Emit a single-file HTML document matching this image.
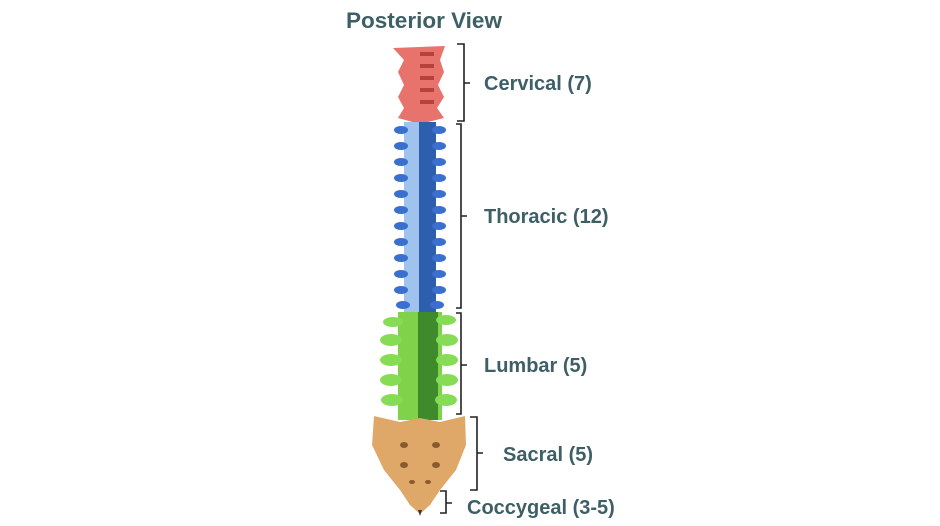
<!DOCTYPE html>
<html><head><style>
body{margin:0;background:#fff;}
svg{display:block;}
text{font-family:"Liberation Sans",sans-serif;font-weight:bold;fill:#3e5f66;}
</style></head><body>
<svg width="940" height="526" viewBox="0 0 940 526">
<text x="424" y="28" font-size="22.5" text-anchor="middle">Posterior View</text>
<!-- cervical -->
<path d="M393 48 L445 46 L440 60 L444 72 L438 85 L444 97 L437 108 L444 118 L420 124 L398 118 L404 108 L398 97 L404 85 L398 72 L404 60 Z" fill="#e8736c"/>
<g fill="#b5433c"><rect x="420" y="52" width="14" height="4"/><rect x="420" y="64" width="14" height="4"/><rect x="420" y="76" width="14" height="4"/><rect x="420" y="88" width="14" height="4"/><rect x="420" y="100" width="14" height="4"/></g>
<!-- thoracic -->
<rect x="404" y="122" width="32" height="190" fill="#9fc3ec"/>
<rect x="419" y="122" width="17" height="190" fill="#2d5fae"/>
<g fill="#3a6fd0">
<ellipse cx="401" cy="130" rx="7" ry="4"/><ellipse cx="439" cy="130" rx="7" ry="4"/>
<ellipse cx="401" cy="146" rx="7" ry="4"/><ellipse cx="439" cy="146" rx="7" ry="4"/>
<ellipse cx="401" cy="162" rx="7" ry="4"/><ellipse cx="439" cy="162" rx="7" ry="4"/>
<ellipse cx="401" cy="178" rx="7" ry="4"/><ellipse cx="439" cy="178" rx="7" ry="4"/>
<ellipse cx="401" cy="194" rx="7" ry="4"/><ellipse cx="439" cy="194" rx="7" ry="4"/>
<ellipse cx="401" cy="210" rx="7" ry="4"/><ellipse cx="439" cy="210" rx="7" ry="4"/>
<ellipse cx="401" cy="226" rx="7" ry="4"/><ellipse cx="439" cy="226" rx="7" ry="4"/>
<ellipse cx="401" cy="242" rx="7" ry="4"/><ellipse cx="439" cy="242" rx="7" ry="4"/>
<ellipse cx="401" cy="258" rx="7" ry="4"/><ellipse cx="439" cy="258" rx="7" ry="4"/>
<ellipse cx="401" cy="274" rx="7" ry="4"/><ellipse cx="439" cy="274" rx="7" ry="4"/>
<ellipse cx="401" cy="290" rx="7" ry="4"/><ellipse cx="439" cy="290" rx="7" ry="4"/>
<ellipse cx="403" cy="305" rx="7" ry="4"/><ellipse cx="437" cy="305" rx="7" ry="4"/>
</g>
<!-- lumbar -->
<rect x="398" y="312" width="44" height="108" fill="#7fd24a"/>
<rect x="418" y="312" width="20" height="108" fill="#3f8a2a"/>
<g fill="#86dc55">
<ellipse cx="393" cy="322" rx="10" ry="5"/><ellipse cx="446" cy="320" rx="10" ry="5"/>
<ellipse cx="391" cy="340" rx="11" ry="6"/><ellipse cx="447" cy="340" rx="11" ry="6"/>
<ellipse cx="391" cy="360" rx="11" ry="6"/><ellipse cx="447" cy="360" rx="11" ry="6"/>
<ellipse cx="391" cy="380" rx="11" ry="6"/><ellipse cx="447" cy="380" rx="11" ry="6"/>
<ellipse cx="392" cy="400" rx="11" ry="6"/><ellipse cx="446" cy="400" rx="11" ry="6"/>
</g>
<!-- sacrum -->
<path d="M374 416 L400 422 L420 418 L440 422 L465 416 L466 445 L456 470 L440 490 L430 505 L420 514 L410 505 L400 490 L384 470 L372 445 Z" fill="#e0a868"/>
<g fill="#8a5a2c"><ellipse cx="404" cy="445" rx="4" ry="3"/><ellipse cx="436" cy="445" rx="4" ry="3"/><ellipse cx="404" cy="465" rx="4" ry="3"/><ellipse cx="436" cy="465" rx="4" ry="3"/><ellipse cx="412" cy="482" rx="3" ry="2"/><ellipse cx="428" cy="482" rx="3" ry="2"/></g>
<path d="M418 510 L422 510 L420 516 Z" fill="#333"/>
<!-- brackets -->
<g fill="none" stroke="#222" stroke-width="1.6">
<path d="M457 44 H464 V121 H457 M464 83 H470"/>
<path d="M456 124 H461 V308 H456 M461 216 H467"/>
<path d="M456 313 H461 V414 H456 M461 365 H467"/>
<path d="M470 417 H477 V490 H470 M477 453 H483"/>
<path d="M440 491 H446 V513 H440 M446 503 H452"/>
</g>
<g font-size="20">
<text x="484" y="90">Cervical (7)</text>
<text x="484" y="223">Thoracic (12)</text>
<text x="484" y="372">Lumbar (5)</text>
<text x="503" y="461">Sacral (5)</text>
<text x="467" y="514">Coccygeal (3-5)</text>
</g>
</svg>
</body></html>
